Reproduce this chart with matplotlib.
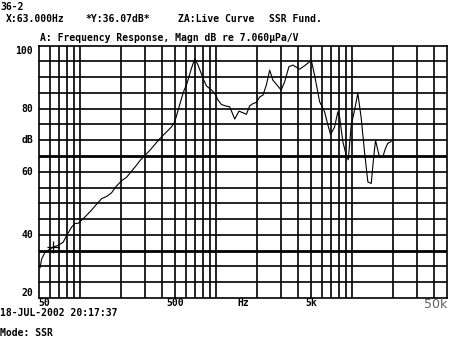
import numpy as np
import matplotlib
matplotlib.use("Agg")
import matplotlib.pyplot as plt
import matplotlib.transforms as mtransforms

# frequency response curve
freq_hz = [50.6, 52.1, 55.1, 60.6, 63, 69, 75, 79.5, 86.6, 91.5, 96.7, 108, 121, 132,
           144, 157, 170, 185, 204, 220, 260, 275, 326, 386, 470, 497, 526, 557, 583,
           607, 660, 698, 738, 803, 851, 926, 980, 1036, 1097, 1193, 1262, 1374, 1477,
           1581, 1675, 1771, 1873, 1984, 2098, 2219, 2349, 2485, 2627, 2812, 3020, 3203,
           3445, 3688, 4130, 4493, 5035, 5322, 5795, 6306, 6671, 6981, 7468, 7896, 8128,
           8597, 9103, 9419, 9908, 10480, 11080, 11740, 12410, 13130, 13900, 14460,
           14960, 15550, 16000, 16910, 17700, 18400, 19500]
magn_db = [29.6, 32.4, 34.5, 35.6, 36.1, 36.7, 37.7, 39.8, 42.5, 43.6, 43.7, 45.6, 47.8, 49.7,
           51.5, 52.2, 53.3, 55.5, 57.3, 58.3, 62.1, 63.5, 66.8, 70.5, 74.2, 75.8, 79.5, 83.2, 85.9,
           87.5, 92.8, 95.8, 93.8, 89.6, 87.2, 85.9, 84.8, 82.7, 81.3, 80.8, 80.6, 76.7, 79.2,
           78.7, 78.2, 80.9, 81.6, 82.0, 83.7, 84.3, 87.5, 92.2, 89.0, 87.5, 85.9, 88.5,
           93.3, 93.8, 92.5, 93.6, 95.3, 90.6, 82.2, 79.0, 74.8, 71.8, 74.2, 79.0, 77.4,
           69.5, 65.2, 63.8, 74.8, 79.5, 84.9, 76.9, 66.3, 56.8, 56.3, 64.2,
           70.0, 66.8, 64.7, 64.7, 67.4, 69.0, 69.6]

cursor_hz = 63.0
cursor_db = 36.07

x_grid = [60, 70, 80, 90, 100, 200, 300, 400, 500, 600, 700, 800, 900, 1000,
          2000, 3000, 4000, 5000, 6000, 7000, 8000, 9000, 10000, 20000, 30000, 40000]
y_grid = list(range(25, 100, 5))
y_labels = [100, 80, 60, 40, 20]
x_labels = {50: "50", 500: "500", 5000: "5k"}

mono = {"family": "DejaVu Sans Mono", "weight": "bold", "size": 7}

fig = plt.figure(figsize=(4.5, 3.38), dpi=100)
ax = fig.add_axes([0.0873, 0.1183, 0.9054, 0.747])
ax.set_xscale("log")
ax.set_xlim(50, 50000)
ax.set_ylim(20, 100)

for f in x_grid:
    ax.axvline(f, color="black", lw=1.2, zorder=1)
for d in y_grid:
    ax.axhline(d, color="black", lw=2.0 if d in (35, 65) else 1.2, zorder=1)

ax.plot(freq_hz, magn_db, color="black", lw=0.8, zorder=3)
ax.plot([cursor_hz], [cursor_db], marker="+", color="black", ms=8, mew=0.9, zorder=4)

ax.set_xticks([])
ax.set_yticks([])
ax.minorticks_off()
for s in ax.spines.values():
    s.set_linewidth(1.2)

# y labels
ytr = mtransforms.blended_transform_factory(fig.transFigure, ax.transData)
for v in y_labels:
    va = "center"
    if v == 100:
        va = "top"
    elif v == 20:
        va = "bottom"
    fig.text(33 / 450, v, str(v), transform=ytr, ha="right", va=va, fontdict=mono)
fig.text(27 / 450, 1 - 140 / 338, "dB", ha="center", va="center", fontdict=mono)

# x labels
xtr = mtransforms.blended_transform_factory(ax.transData, fig.transFigure)
fig.text(44 / 450, 1 - 303 / 338, "50", ha="center", va="center", fontdict=mono)
fig.text(500, 1 - 303 / 338, "500", transform=xtr, ha="center", va="center", fontdict=mono)
fig.text(243 / 450, 1 - 303 / 338, "Hz", ha="center", va="center", fontdict=mono)
fig.text(5000, 1 - 303 / 338, "5k", transform=xtr, ha="center", va="center", fontdict=mono)
fig.text(447 / 450, 1 - 305 / 338, "50k", ha="right", va="center",
         family="DejaVu Sans", size=9, color="#606060")

# header / footer text
fig.text(0.0, 1 - 7 / 338, "36-2", ha="left", va="center", fontdict=mono)
fig.text(6 / 450, 1 - 19 / 338, "X:63.000Hz", ha="left", va="center", fontdict=mono)
fig.text(85 / 450, 1 - 19 / 338, "*Y:36.07dB*", ha="left", va="center", fontdict=mono)
fig.text(178 / 450, 1 - 19 / 338, "ZA:Live Curve", ha="left", va="center", fontdict=mono)
fig.text(269 / 450, 1 - 19 / 338, "SSR Fund.", ha="left", va="center", fontdict=mono)
fig.text(40 / 450, 1 - 38 / 338, "A: Frequency Response, Magn dB re 7.060\u00b5Pa/V",
         ha="left", va="center", fontdict=mono)
fig.text(0.0, 1 - 313 / 338, "18-JUL-2002 20:17:37", ha="left", va="center", fontdict=mono)
fig.text(0.0, 1 - 333 / 338, "Mode: SSR", ha="left", va="center", fontdict=mono)

fig.savefig("out.png", dpi=100, facecolor="white")
